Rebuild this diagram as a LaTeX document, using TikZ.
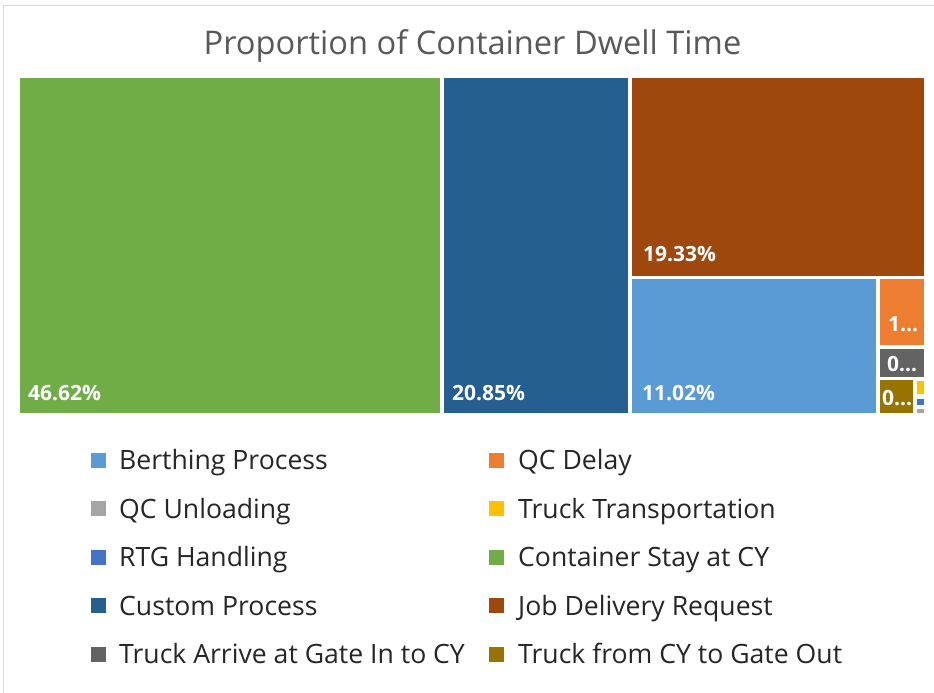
\documentclass[tikz,border=0pt]{standalone}
\usepackage{fontspec}
\setmainfont{Open Sans}
\definecolor{cGreen}{HTML}{70AD47}
\definecolor{cCustom}{HTML}{255E91}
\definecolor{cBrown}{HTML}{9E480E}
\definecolor{cLBlue}{HTML}{5B9BD5}
\definecolor{cOrange}{HTML}{ED7D31}
\definecolor{cDGray}{HTML}{636363}
\definecolor{cOlive}{HTML}{997300}
\definecolor{cYellow}{HTML}{FFC000}
\definecolor{cBlue}{HTML}{4472C4}
\definecolor{cGray}{HTML}{A5A5A5}
\definecolor{cFrame}{HTML}{D9D9D9}
\definecolor{cTitle}{HTML}{595959}
\definecolor{cLegend}{HTML}{262626}
\tikzset{
  datalabel/.style={anchor=base west, inner sep=0pt, text=white,
    font=\fontsize{21}{25}\selectfont\bfseries},
  legendtext/.style={anchor=base west, inner sep=0pt, text=cLegend,
    font=\fontsize{26.6}{31}\selectfont},
  swatch/.style={minimum size=15pt, inner sep=0pt, draw=none}
}
\begin{document}
\begin{tikzpicture}[x=1pt,y=-1pt]
\useasboundingbox (0,0) rectangle (934,693);
\fill[white] (0,0) rectangle (934,693);
% chart frame (top and left edges)
\draw[cFrame, line width=1.2pt] (3.5,693) -- (3.5,5.5) -- (934,5.5);

% title
\node[anchor=base, inner sep=0pt, text=cTitle,
      font=\fontsize{32.6}{38}\selectfont] (title) at (472.5,55) {Proportion of Container Dwell Time};

% treemap tiles
\fill[cGreen]   (20,78)     rectangle (439.5,412.5);
\fill[cCustom]  (443.5,78)  rectangle (628,412.5);
\fill[cBrown]   (632,78)    rectangle (924,275.5);
\fill[cLBlue]   (632,279)   rectangle (876,412.5);
\fill[cOrange]  (879.5,279) rectangle (924,345);
\fill[cDGray]   (879.5,349) rectangle (924,376.5);
\fill[cOlive]   (879.5,380) rectangle (912.5,412.5);
\fill[cYellow]  (916.5,380.5) rectangle (924,394);
\fill[cBlue]    (916.5,398.5) rectangle (924,405);
\fill[cGray]    (916.5,409) rectangle (924,412.5);

% data labels
\node[datalabel] (lGreen)  at (28,400)  {46.62\%};
\node[datalabel] (lCustom) at (452,400) {20.85\%};
\node[datalabel] (lLBlue)  at (642,400) {11.02\%};
\node[datalabel] (lBrown)  at (643,261) {19.33\%};
\node[datalabel] (lOrange) at (888,331) {1…};
\node[datalabel] (lDGray)  at (887,371) {0…};
\node[datalabel] (lOlive)  at (882,405) {0…};

% legend
\foreach \col/\lbl [count=\i] in {
    cLBlue/Berthing Process, cGray/QC Unloading, cBlue/RTG Handling,
    cCustom/Custom Process, cDGray/Truck Arrive at Gate In to CY}{
  \node[swatch, fill=\col] (sa\i) at (98.5,{460+48.5*(\i-1)}) {};
  \node[legendtext] (ta\i) at (119,{469.5+48.5*(\i-1)}) {\lbl};
}
\foreach \col/\lbl [count=\i] in {
    cOrange/QC Delay, cYellow/Truck Transportation, cGreen/Container Stay at CY,
    cBrown/Job Delivery Request, cOlive/Truck from CY to Gate Out}{
  \node[swatch, fill=\col] (sb\i) at (496,{460+48.5*(\i-1)}) {};
  \node[legendtext] (tb\i) at (518,{469.5+48.5*(\i-1)}) {\lbl};
}
\end{tikzpicture}
\end{document}
